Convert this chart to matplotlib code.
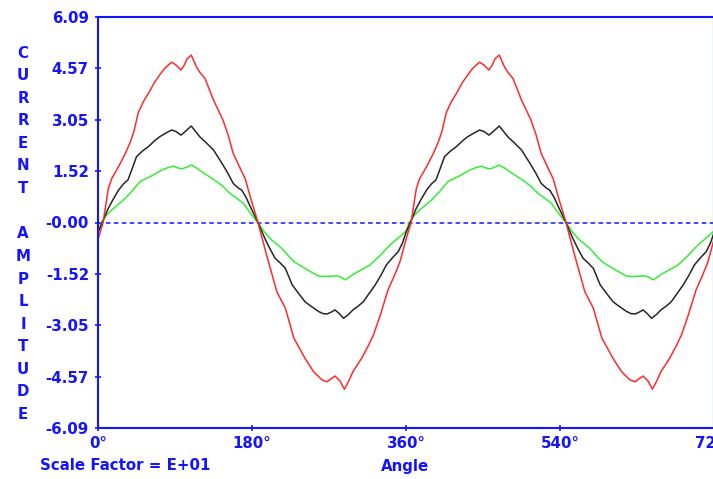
import numpy as np
import matplotlib
matplotlib.use("Agg")
import matplotlib.pyplot as plt

# one period of each trace (degrees, amplitude);
# the scope shows the same period twice
red_deg = [0, 6, 12, 16, 25, 32, 38, 42, 47, 53, 59, 66, 72, 78, 86, 91, 97, 101, 104, 109,
           115, 119, 125, 135, 146, 152, 158, 167, 172, 178, 187, 197, 203, 209, 219, 229,
           236, 242, 252, 262, 268, 273, 277, 283, 288, 293, 298, 308, 316, 322, 330, 339,
           346, 353, 360]
red_amp = [-0.50, 0.00, 1.00, 1.30, 1.70, 2.05, 2.40, 2.70, 3.25, 3.58, 3.83, 4.15, 4.37, 4.57,
           4.75, 4.67, 4.52, 4.67, 4.85, 4.96, 4.62, 4.45, 4.27, 3.63, 3.04, 2.60, 2.05, 1.56,
           1.30, 0.76, 0.00, -0.96, -1.50, -2.05, -2.54, -3.43, -3.75, -4.03, -4.42, -4.67,
           -4.72, -4.62, -4.55, -4.70, -4.94, -4.70, -4.42, -4.03, -3.65, -3.33, -2.74, -2.00,
           -1.60, -1.16, -0.50]

black_deg = [0, 5, 12, 18, 24, 30, 35, 40, 45, 52, 59, 66, 72, 80, 86, 91, 97, 103, 109, 114,
             119, 127, 135, 145, 152, 158, 164, 168, 173, 178, 187, 195, 201, 207, 213, 219,
             227, 235, 242, 250, 258, 263, 268, 273, 277, 282, 287, 293, 298, 304, 310, 317,
             324, 331, 337, 344, 351, 356, 360]
black_amp = [-0.30, 0.00, 0.42, 0.70, 0.96, 1.15, 1.26, 1.60, 1.95, 2.12, 2.25, 2.42, 2.54, 2.66,
             2.74, 2.70, 2.59, 2.72, 2.86, 2.70, 2.54, 2.35, 2.15, 1.75, 1.45, 1.16, 1.02, 0.96,
             0.75, 0.47, 0.00, -0.47, -0.78, -1.06, -1.20, -1.36, -1.85, -2.12, -2.35, -2.50,
             -2.64, -2.70, -2.71, -2.65, -2.59, -2.70, -2.84, -2.72, -2.59, -2.48, -2.35, -2.10,
             -1.85, -1.55, -1.26, -1.05, -0.86, -0.60, -0.30]

green_deg = [0, 4, 10, 16, 23, 30, 39, 49, 56, 61, 68, 75, 81, 88, 93, 98, 103, 109, 115, 121,
             130, 139, 147, 154, 162, 170, 176, 184, 187, 195, 203, 209, 215, 222, 229, 236,
             242, 250, 258, 266, 273, 279, 284, 289, 294, 298, 308, 318, 330, 341, 348, 355, 360]
green_amp = [-0.25, 0.00, 0.22, 0.37, 0.52, 0.67, 0.91, 1.21, 1.30, 1.36, 1.46, 1.56, 1.62, 1.67,
             1.62, 1.59, 1.63, 1.70, 1.62, 1.51, 1.36, 1.21, 1.05, 0.87, 0.72, 0.57, 0.35, 0.08,
             0.00, -0.30, -0.52, -0.64, -0.77, -0.97, -1.16, -1.27, -1.36, -1.48, -1.59, -1.60,
             -1.59, -1.58, -1.62, -1.70, -1.62, -1.54, -1.40, -1.26, -0.97, -0.67, -0.52, -0.37,
             -0.25]

y_ticks = [6.09, 4.5675, 3.045, 1.5225, 0.0, -1.5225, -3.045, -4.5675, -6.09]
y_labels = ["6.09", "4.57", "3.05", "1.52", "-0.00", "-1.52", "-3.05", "-4.57", "-6.09"]
x_ticks = [0, 180, 360, 540, 720]
x_labels = ["0°", "180°", "360°", "540°", "720°"]
y_title = "CURRENT AMPLITUDE"

BLUE = "#1414ff"


def two_periods(deg, amp):
    deg = np.array(deg, dtype=float)
    amp = np.array(amp, dtype=float)
    return np.concatenate([deg, deg[1:] + 360]), np.concatenate([amp, amp[1:]])


fig = plt.figure(figsize=(7.13, 4.79), dpi=100)
W, H = 713, 479
ax = fig.add_axes([98 / W, 1 - 428 / H, 616 / W, 411 / H])

ax.axhline(0, color=BLUE, lw=1.1, ls=(0, (3, 2.2)), zorder=1)
for deg, amp, col in [(green_deg, green_amp, "#33ee33"),
                      (black_deg, black_amp, "#262626"),
                      (red_deg, red_amp, "#ff2a2a")]:
    xx, yy = two_periods(deg, amp)
    ax.plot(xx, yy, color=col, lw=1.1, zorder=2)

ax.set_xlim(0, 720)
ax.set_ylim(-6.09, 6.09)
ax.set_xticks(x_ticks)
ax.set_xticklabels(x_labels)
ax.set_yticks(y_ticks)
ax.set_yticklabels(y_labels)
for s in ax.spines.values():
    s.set_color(BLUE)
    s.set_linewidth(1.5)
ax.tick_params(direction="inout", length=5, width=1.2, color=BLUE, labelcolor=BLUE,
               labelsize=10.8)
ax.tick_params(axis="y", pad=4)
ax.tick_params(axis="x", pad=3)
for lab in ax.get_xticklabels() + ax.get_yticklabels():
    lab.set_fontweight("bold")

# stacked vertical title, one letter per row
row = 0
for ch in y_title:
    if ch != " ":
        fig.text(23 / W, 1 - (53 + row * 22.6) / H, ch, color=BLUE, fontsize=10.8,
                 fontweight="bold", ha="center", va="center")
    row += 1

fig.text(40 / W, 1 - 466 / H, "Scale Factor = E+01", color=BLUE, fontsize=10.8,
         fontweight="bold", ha="left", va="center")
fig.text(405 / W, 1 - 466 / H, "Angle", color=BLUE, fontsize=10.8,
         fontweight="bold", ha="center", va="center")

fig.savefig("out.png", dpi=100, facecolor="white")
